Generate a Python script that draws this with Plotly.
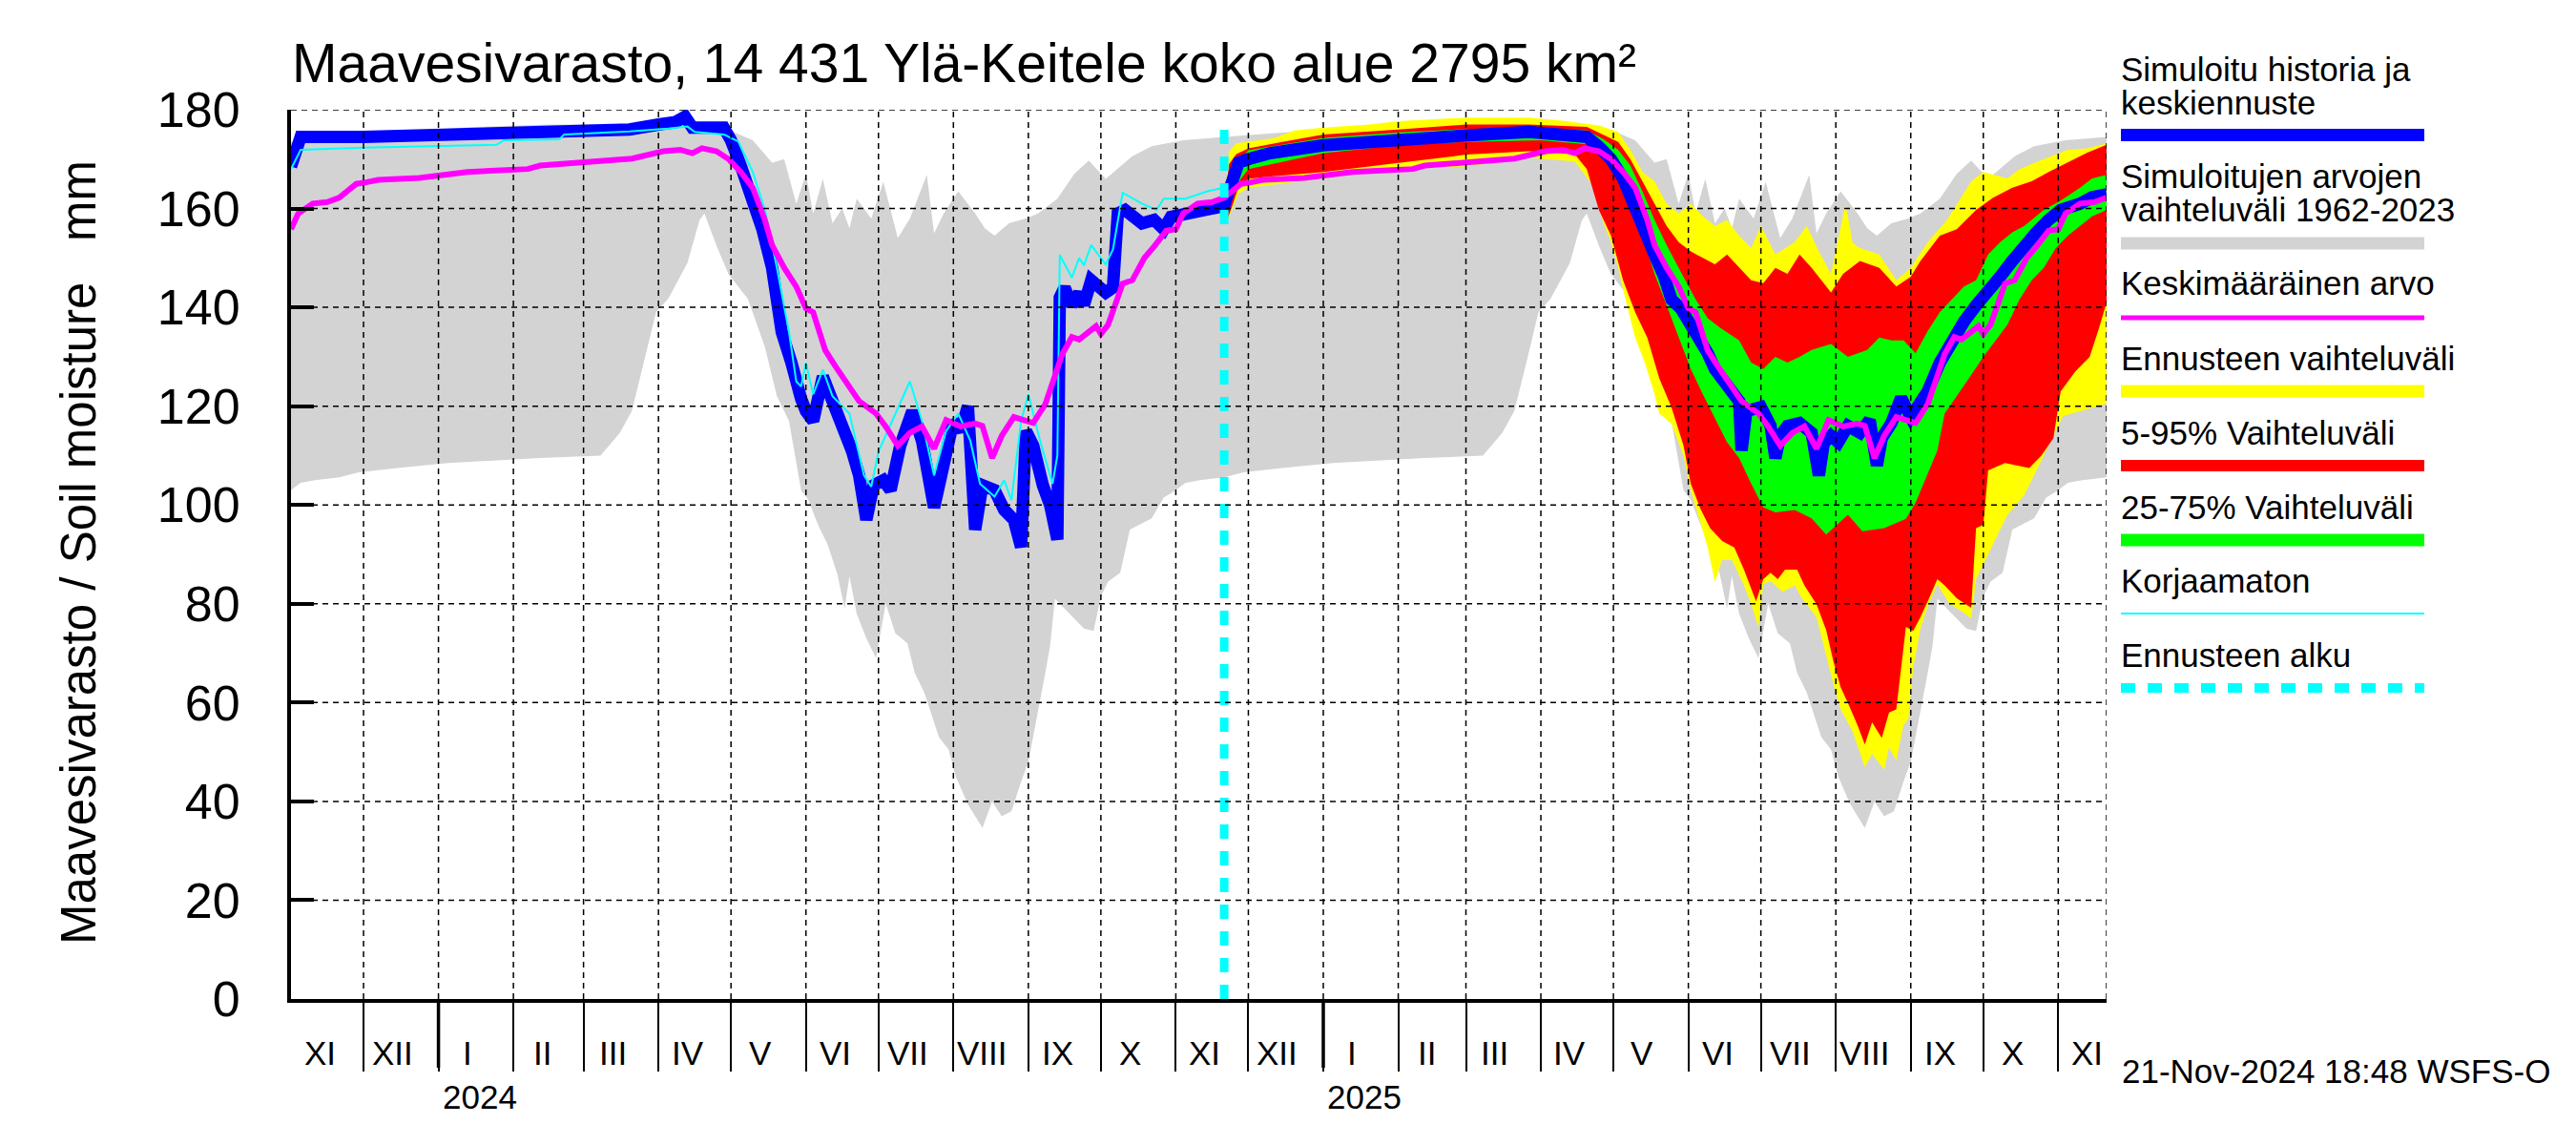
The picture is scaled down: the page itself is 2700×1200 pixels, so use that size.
import plotly.graph_objects as go
from datetime import date

# ---------------- DATA ----------------
X_START = "2023-11-01"
X_END = "2025-11-21"
FORECAST_START = "2024-11-21"
FORECAST_LINE_TOP = 177.6

# Climatology 1962-2023 (by month-day): lower / upper envelope and mean
gray_low_md = [("01-05",108.5),("02-12",109.5),("03-08",110),("03-16",114.6),("03-21",119),("03-26",128.8),
    ("03-31",139),("04-05",141.7),("04-13",149),("04-18",157.7),("04-20",159),("04-25",152.5),("04-30",146.7),
    ("05-08",141.7),("05-15",132),("05-20",122),("05-25",117),("05-30",103),("06-02",101),("06-06",96),
    ("06-10",92),("06-14",86),("06-17",79),("06-19",85.6),("06-22",78),("06-26",73),("06-30",69),("07-04",80),
    ("07-08",74),("07-13",72),("07-16",66),("07-20",62),("07-23",57.5),("07-26",53),("07-30",50.5),("08-02",45),
    ("08-07",39.4),("08-13",34.6),("08-17",40),("08-21",37),("08-25",38),("08-29",44),("09-01",48),("09-05",58),
    ("09-08",66),("09-10",71.5),("09-12",81),("09-19",77.5),("09-24",75),("09-28",74.5),("10-01",81.5),
    ("10-04",84.5),("10-09",86.3),("10-13",95),("10-22",97.3),("10-27",101.5),("11-01",103),("11-05",104.5),
    ("11-11",105),("11-21",105.6),("11-29",106.6),("12-15",107.5)]

gray_up_md = [("01-15",176.5),("02-15",177),("03-15",177),("04-01",177),("04-20",176.5),("05-01",175.7),
    ("05-10",173.8),("05-18",169.3),("05-23",170),("05-28",161),("06-01",167),("06-04",159),("06-08",166),
    ("06-12",157),("06-16",160),("06-19",156),("06-22",162),("06-28",158),("07-03",165.4),("07-09",154),
    ("07-14",158),("07-21",166.8),("07-24",155),("07-28",159),("08-03",163.5),("08-10",159),("08-14",156),
    ("08-18",154.5),("08-24",157),("08-31",158),("09-05",159),("09-13",162),("09-20",167),("09-26",169.7),
    ("10-03",166),("10-14",170.6),("10-22",172.6),("11-01",173.5),("11-04",173.8),("11-21",174.5),("12-19",175.5)]

mean_md = [("01-13",167.4),("02-07",168),("02-12",168.7),("03-21",170.1),("04-03",171.6),("04-10",171.9),
    ("04-15",171.2),("04-19",172.2),("04-25",171.6),("04-30",170),("05-05",167.4),("05-10",164.2),("05-15",157.7),
    ("05-18",152.6),("05-23",148),("05-28",144.2),("06-01",139.8),("06-04",139),("06-09",131.3),("06-13",128.2),
    ("06-17",125.5),("06-23",121),("06-30",118.5),("07-04",115.9),("07-09",112),("07-14",114.6),("07-19",115.9),
    ("07-24",111.4),("07-29",117.2),("08-04",115.9),("08-10",116.5),("08-13",116),("08-17",109.5),("08-21",114),
    ("08-26",117.8),("09-03",116.6),("09-08",120.4),("09-12",126.2),("09-15",130.5),("09-19",134),("09-22",133.5),
    ("09-29",136.2),("10-01",134.6),("10-04",136.5),("10-07",140.4),("10-10",144.8),("10-14",145.5),("10-19",150),
    ("10-23",152.3),("10-28",155.5),("11-01",155.8),("11-04",159),("11-10",161),("11-16",161.3),("11-21",162.2),
    ("11-25",163.9),("11-28",165),("12-02",165.3),("12-07",165.8),("12-24",166.2)]

# Simulated history (thick blue) and uncorrected (cyan)
history = [("2023-11-01",168.5),("2023-11-03",172),("2023-11-05",174.5),("2023-12-01",174.5),("2024-01-01",175),
    ("2024-02-01",175.4),("2024-03-01",175.7),("2024-03-20",176),("2024-04-01",177),("2024-04-08",177.5),
    ("2024-04-12",178.6),("2024-04-15",176.4),("2024-04-28",176.4),("2024-05-01",173.8),("2024-05-05",168.7),
    ("2024-05-10",162),("2024-05-14",155.8),("2024-05-18",148),("2024-05-22",135),("2024-05-26",128.8),
    ("2024-05-28",123.6),("2024-05-30",121.5),("2024-06-01",119),("2024-06-04",117),("2024-06-08",126),
    ("2024-06-12",121),("2024-06-16",117),("2024-06-20",111),("2024-06-23",106),("2024-06-26",97),
    ("2024-06-29",104),("2024-07-03",105),("2024-07-06",103),("2024-07-10",112),("2024-07-15",119),
    ("2024-07-19",113),("2024-07-24",99.5),("2024-07-28",108),("2024-08-01",117),("2024-08-04",115),
    ("2024-08-07",120),("2024-08-10",95),("2024-08-13",104),("2024-08-18",103),("2024-08-22",99),
    ("2024-08-26",97),("2024-08-29",91.5),("2024-08-31",115),("2024-09-03",112),("2024-09-07",104),
    ("2024-09-10",100),("2024-09-13",93),("2024-09-14",142),("2024-09-16",144),("2024-09-19",140.4),
    ("2024-09-22",142.9),("2024-09-24",140.5),("2024-09-27",145.5),("2024-10-03",143),("2024-10-06",144),
    ("2024-10-08",159),("2024-10-11",159.7),("2024-10-18",157),("2024-10-23",157.7),("2024-10-27",155.8),
    ("2024-10-30",158.3),("2024-11-08",159),("2024-11-18",160.3),("2024-11-21",160.5)]

uncorrected = [("2023-11-01",168),("2023-11-05",171.9),("2023-12-01",172.3),("2024-01-25",172.9),
    ("2024-01-28",173.8),("2024-02-20",174),("2024-02-22",175),("2024-03-20",175.6),("2024-04-05",176.2),
    ("2024-04-13",176.6),("2024-04-16",175.5),("2024-04-28",175),("2024-05-04",173.6),("2024-05-10",167.4),
    ("2024-05-15",159.7),("2024-05-20",148),("2024-05-25",135),("2024-05-28",125),("2024-05-30",124),
    ("2024-06-01",128.8),("2024-06-04",122.4),("2024-06-08",127.4),("2024-06-12",122),("2024-06-19",118.5),
    ("2024-06-25",106),("2024-06-28",103.7),("2024-07-01",110.8),("2024-07-04",114),("2024-07-10",120.4),
    ("2024-07-14",125),("2024-07-19",117),("2024-07-24",106),("2024-07-29",115),("2024-08-03",118.5),
    ("2024-08-08",113),("2024-08-12",104.3),("2024-08-18",101.7),("2024-08-22",105),("2024-08-25",101),
    ("2024-08-29",117),("2024-09-01",122.4),("2024-09-06",112.7),("2024-09-11",104.3),("2024-09-13",110),
    ("2024-09-14",150.6),("2024-09-19",146),("2024-09-22",150),("2024-09-24",148.5),("2024-09-27",152.6),
    ("2024-10-03",148.7),("2024-10-06",151.7),("2024-10-10",163.2),("2024-10-18",161),("2024-10-24",159.7),
    ("2024-10-27",162),("2024-11-05",162),("2024-11-14",163.5),("2024-11-19",164),("2024-11-21",164)]

# Forecast: median (blue), 25-75 % (green), 5-95 % (red), min-max (yellow)
fc_median = [("2024-11-21",160.5),("2024-11-22",162.2),("2024-11-24",166),("2024-11-27",169.3),("2024-12-01",170),
    ("2024-12-10",171.2),("2025-01-01",172.8),("2025-02-01",174.1),("2025-03-01",174.8),("2025-03-27",175.5),
    ("2025-04-15",175),("2025-04-20",174.5),("2025-04-25",172.5),("2025-04-30",170),("2025-05-05",166.1),
    ("2025-05-10",159.7),("2025-05-14",154.5),("2025-05-18",150.7),("2025-05-22",146.2),("2025-05-25",141.6),
    ("2025-05-29",139.7),("2025-06-02",136.5),("2025-06-06",133.9),("2025-06-09",130.7),("2025-06-12",127.5),
    ("2025-06-16",124.9),("2025-06-19",122.4),("2025-06-22",121),("2025-06-23",111),("2025-06-25",119),
    ("2025-07-01",119.8),("2025-07-05",116),("2025-07-07",109.5),("2025-07-09",114),("2025-07-12",116),
    ("2025-07-17",116.6),("2025-07-22",114.6),("2025-07-25",106),("2025-07-27",112.5),("2025-07-30",114),
    ("2025-08-02",112.7),("2025-08-06",116),("2025-08-11",114.6),("2025-08-15",117.2),("2025-08-18",108),
    ("2025-08-20",113.5),("2025-08-24",116.6),("2025-08-28",121.7),("2025-09-01",117.8),("2025-09-08",123),
    ("2025-09-13",128.8),("2025-09-18",133.3),("2025-09-23",137.1),("2025-09-28",140.4),("2025-10-03",142.9),
    ("2025-10-08",146.2),("2025-10-13",149.4),("2025-10-18",152.6),("2025-10-23",155.2),("2025-10-28",157.7),
    ("2025-11-02",159.7),("2025-11-10",161),("2025-11-15",162.3),("2025-11-21",162.9)]

fc_p75 = [("2024-11-21",160.8),("2024-11-24",168),("2024-12-01",171.8),("2025-01-01",174.3),("2025-02-01",175.4),
    ("2025-03-01",176.1),("2025-04-01",176.4),("2025-04-20",175.8),("2025-04-27",174),("2025-05-03",171.9),
    ("2025-05-08",168.7),("2025-05-13",163.5),("2025-05-18",157.7),("2025-05-23",152.6),("2025-05-28",148),
    ("2025-06-04",141.6),("2025-06-09",137.8),("2025-06-14",135.9),("2025-06-22",133.3),("2025-06-27",128.8),
    ("2025-07-02",127.5),("2025-07-07",130),("2025-07-12",128.8),("2025-07-17",130),("2025-07-22",131.4),
    ("2025-07-30",132.6),("2025-08-06",130),("2025-08-14",131.4),("2025-08-19",133.9),("2025-08-24",133.3),
    ("2025-08-29",133.3),("2025-09-03",130.7),("2025-09-08",135.2),("2025-09-13",139),("2025-09-18",141.6),
    ("2025-09-23",144.2),("2025-09-28",145.5),("2025-10-03",150.7),("2025-10-08",153.2),("2025-10-13",155.2),
    ("2025-10-18",156.5),("2025-10-26",159.7),("2025-11-02",161.6),("2025-11-10",164.2),("2025-11-15",166.1),
    ("2025-11-21",166.8)]

fc_p25 = [("2024-11-21",160),("2024-11-24",163.5),("2024-12-01",168),("2025-01-01",171.2),("2025-02-01",172.8),
    ("2025-03-01",173.5),("2025-04-01",173.8),("2025-04-20",173),("2025-04-27",171),("2025-04-30",170),
    ("2025-05-03",167.4),("2025-05-08",162.2),("2025-05-13",154.5),("2025-05-18",146.8),("2025-05-23",140.4),
    ("2025-05-28",133.9),("2025-06-02",127.5),("2025-06-07",122.4),("2025-06-12",117.5),("2025-06-17",112.7),
    ("2025-06-22",109.5),("2025-06-27",104.3),("2025-07-02",99.5),("2025-07-07",98.5),("2025-07-15",99),
    ("2025-07-22",97.3),("2025-07-28",94),("2025-08-06",98),("2025-08-12",94.7),("2025-08-21",95.3),
    ("2025-08-30",97.2),("2025-09-03",100.5),("2025-09-08",106.3),("2025-09-12",111),("2025-09-15",118.5),
    ("2025-09-20",122),("2025-09-25",125.6),("2025-10-01",130),("2025-10-06",133.3),("2025-10-11",136.5),
    ("2025-10-16",141.6),("2025-10-21",145.5),("2025-10-26",148),("2025-10-31",152),("2025-11-05",154.5),
    ("2025-11-10",156.5),("2025-11-15",158.4),("2025-11-21",159.7)]

fc_p95 = [("2024-11-21",161),("2024-11-23",169),("2024-11-26",171),("2024-12-01",172.2),("2024-12-15",173.5),
    ("2025-01-01",175),("2025-02-01",176),("2025-03-01",177),("2025-03-27",177),("2025-04-20",176.5),
    ("2025-05-03",173.5),("2025-05-08",170),("2025-05-13",165.5),("2025-05-18",161),("2025-05-23",156.5),
    ("2025-05-28",153.2),("2025-06-02",151.3),("2025-06-07",150),("2025-06-12",148.7),("2025-06-17",150.7),
    ("2025-06-22",148),("2025-06-27",145.5),("2025-07-02",144.9),("2025-07-07",148),("2025-07-12",146.8),
    ("2025-07-17",150.7),("2025-07-22",148),("2025-07-30",143),("2025-08-04",146.8),("2025-08-11",149.4),
    ("2025-08-19",148),("2025-08-26",144.2),("2025-09-01",146.2),("2025-09-05",149.4),("2025-09-13",154.5),
    ("2025-09-20",155.8),("2025-09-28",159.7),("2025-10-05",162.2),("2025-10-13",164.2),("2025-10-21",165.5),
    ("2025-10-28",167.4),("2025-11-05",169.3),("2025-11-13",171.3),("2025-11-21",172.9)]

fc_p05 = [("2024-11-21",159.5),("2024-11-22",157.4),("2024-11-24",160),("2024-11-27",164.5),("2024-12-01",166),
    ("2024-12-10",166.5),("2025-01-01",167.4),("2025-02-01",169.3),("2025-03-01",170.9),("2025-03-27",171.6),
    ("2025-04-15",171),("2025-04-20",168),("2025-04-25",159.7),("2025-04-30",154.5),("2025-05-05",145.5),
    ("2025-05-10",139),("2025-05-15",133.9),("2025-05-20",125.6),("2025-05-25",119.8),("2025-05-30",112),
    ("2025-06-02",104.3),("2025-06-06",99.2),("2025-06-10",95.3),("2025-06-15",92.7),("2025-06-20",91.4),
    ("2025-06-24",86.9),("2025-06-29",80.5),("2025-07-02",85),("2025-07-05",86.3),("2025-07-08",85),
    ("2025-07-11",86.9),("2025-07-16",86.9),("2025-07-19",83.7),("2025-07-24",79.9),("2025-07-28",74.7),
    ("2025-07-31",68.3),("2025-08-03",63.1),("2025-08-06",59.9),("2025-08-10",55.4),("2025-08-13",51.5),
    ("2025-08-16",56),("2025-08-20",52.8),("2025-08-23",58),("2025-08-26",58.6),("2025-08-30",75.3),
    ("2025-09-02",74.5),("2025-09-05",77.3),("2025-09-08",80.5),("2025-09-12",85),("2025-09-15",83.7),
    ("2025-09-20",81.1),("2025-09-26",79.2),("2025-09-28",95.3),("2025-10-01",96),("2025-10-03",107),
    ("2025-10-10",108.5),("2025-10-20",107.5),("2025-10-25",110),("2025-10-30",113.5),("2025-11-02",123),
    ("2025-11-08",127),("2025-11-14",130),("2025-11-18",136),("2025-11-21",141)]

fc_max = [("2024-11-21",161),("2024-11-23",171.5),("2024-11-26",173.2),("2024-12-01",173.5),("2024-12-12",174.3),
    ("2024-12-20",175.8),("2025-01-01",176.4),("2025-01-20",177),("2025-02-01",177.7),("2025-03-01",178.4),
    ("2025-03-27",178.4),("2025-04-10",177.8),("2025-04-25",176.8),("2025-05-03",175.5),("2025-05-08",171.9),
    ("2025-05-13",167.4),("2025-05-18",165.5),("2025-05-23",161),("2025-05-28",159),("2025-06-02",161),
    ("2025-06-07",158.4),("2025-06-12",156.5),("2025-06-17",157.7),("2025-06-22",154.5),("2025-06-27",152),
    ("2025-07-01",156.5),("2025-07-07",150.7),("2025-07-15",153.2),("2025-07-20",156.5),("2025-07-25",151.3),
    ("2025-07-30",146.8),("2025-08-05",161),("2025-08-08",153),("2025-08-11",152),("2025-08-19",150.7),
    ("2025-08-26",145.5),("2025-09-01",148),("2025-09-08",153.2),("2025-09-16",157.7),("2025-09-26",165.5),
    ("2025-10-01",167.4),("2025-10-11",166.1),("2025-10-16",168),("2025-10-26",170),("2025-11-05",171.9),
    ("2025-11-13",172.2),("2025-11-21",173.2)]

fc_min = [("2024-11-21",159),("2024-11-22",157),("2024-11-24",159.5),("2024-11-27",163),("2024-12-01",164.2),
    ("2025-01-01",166.1),("2025-02-01",168),("2025-03-01",168.5),("2025-03-27",170.3),("2025-04-15",169.5),
    ("2025-04-22",165),("2025-04-27",157),("2025-04-30",153.2),("2025-05-03",148),("2025-05-06",141.6),
    ("2025-05-10",133.9),("2025-05-14",128.8),("2025-05-18",122.4),("2025-05-20",118.5),("2025-05-25",116.5),
    ("2025-05-30",110),("2025-06-02",103),("2025-06-06",96.6),("2025-06-09",91.4),("2025-06-12",84.4),
    ("2025-06-15",88.9),("2025-06-19",88.9),("2025-06-24",83.7),("2025-06-27",79.9),("2025-06-30",75.3),
    ("2025-07-02",84),("2025-07-05",84.6),("2025-07-10",82.4),("2025-07-15",83.7),("2025-07-18",81.1),
    ("2025-07-24",77.3),("2025-07-28",69.6),("2025-07-31",63.8),("2025-08-03",58.6),("2025-08-08",54.1),
    ("2025-08-13",47),("2025-08-16",49.6),("2025-08-21",46.4),("2025-08-23",50.9),("2025-08-26",48.3),
    ("2025-08-29",55.4),("2025-08-31",56.7),("2025-09-02",67),("2025-09-05",75),("2025-09-08",79.5),
    ("2025-09-12",84),("2025-09-17",80),("2025-09-22",78.5),("2025-09-26",77),("2025-09-28",85),
    ("2025-10-01",88),("2025-10-05",92),("2025-10-11",98),("2025-10-18",102),("2025-10-24",108),
    ("2025-10-29",113),("2025-11-03",118),("2025-11-21",120.5)]

ROMAN = ["I", "II", "III", "IV", "V", "VI", "VII", "VIII", "IX", "X", "XI", "XII"]
Y_TICKS = [0, 20, 40, 60, 80, 100, 120, 140, 160, 180]

TITLE = "Maavesivarasto, 14 431 Ylä-Keitele koko alue 2795 km²"
Y_TITLE = "Maavesivarasto / Soil moisture\u00a0\u00a0\u00a0mm"
STAMP = "21-Nov-2024 18:48 WSFS-O"

# ---------------- HELPERS ----------------
D0 = date.fromisoformat(X_START)
D1 = date.fromisoformat(X_END)


def expand_clim(pairs):
    pts = []
    for yr in (2023, 2024, 2025):
        for md, v in pairs:
            d = date(yr, int(md[:2]), int(md[3:]))
            if D0 <= d <= D1:
                pts.append((d, v))
    pts.sort()
    return [p[0].isoformat() for p in pts], [p[1] for p in pts]


def xy(pairs):
    return [p[0] for p in pairs], [p[1] for p in pairs]


# page-pixel geometry (the html body adds an 8 px offset)
OFF = 8
PLOT_LEFT, PLOT_TOP, PW, PH = 305, 115, 1903, 932
W, H = 2684, 1184
L, T = PLOT_LEFT - OFF, PLOT_TOP - OFF
R, B = W - L - PW, H - T - PH


def px_x(px):
    return (px - PLOT_LEFT) / PW


def px_y(py):
    return (PLOT_TOP + PH - py) / PH


FONT = "Liberation Sans, Arial, sans-serif"

# month starts
month_starts = []
y, m = D0.year, D0.month
while True:
    m += 1
    if m > 12:
        m, y = 1, y + 1
    d = date(y, m, 1)
    if d > D1:
        break
    month_starts.append(d)

fig = go.Figure()


def band(low, up, color):
    lx, ly = low
    ux, uy = up
    fig.add_trace(go.Scatter(x=lx, y=ly, mode="lines", line=dict(width=0, color=color),
                             showlegend=False, hoverinfo="skip"))
    fig.add_trace(go.Scatter(x=ux, y=uy, mode="lines", line=dict(width=0, color=color),
                             fill="tonexty", fillcolor=color, showlegend=False, hoverinfo="skip"))


band(expand_clim(gray_low_md), expand_clim(gray_up_md), "#d3d3d3")
band(xy(fc_min), xy(fc_max), "#ffff00")
band(xy(fc_p05), xy(fc_p95), "#ff0000")
band(xy(fc_p25), xy(fc_p75), "#00ff00")

bx, by = xy(history + fc_median[1:])
fig.add_trace(go.Scatter(x=bx, y=by, mode="lines", line=dict(color="#0000ff", width=13),
                         showlegend=False, hoverinfo="skip"))
cx, cy = xy(uncorrected)
fig.add_trace(go.Scatter(x=cx, y=cy, mode="lines", line=dict(color="#00ffff", width=2),
                         showlegend=False, hoverinfo="skip"))
mx, my = expand_clim(mean_md)
fig.add_trace(go.Scatter(x=mx, y=my, mode="lines", line=dict(color="#ff00ff", width=6),
                         showlegend=False, hoverinfo="skip"))
fig.add_trace(go.Scatter(x=[FORECAST_START, FORECAST_START], y=[0, FORECAST_LINE_TOP], mode="lines",
                         line=dict(color="#00ffff", width=9, dash="15px,13px"),
                         showlegend=False, hoverinfo="skip"))

shapes = []
GRID = dict(color="black", width=1.5, dash="6px,5px")
for ms in month_starts + [D1]:
    shapes.append(dict(type="line", xref="x", yref="paper", x0=ms.isoformat(), x1=ms.isoformat(),
                       y0=0, y1=1, line=GRID, layer="above"))
for v in Y_TICKS[1:]:
    shapes.append(dict(type="line", xref="paper", yref="y", x0=0, x1=1, y0=v, y1=v, line=GRID, layer="above"))
# thicker year ticks
for ms in month_starts:
    if ms.month == 1:
        shapes.append(dict(type="line", xref="x", yref="paper", x0=ms.isoformat(), x1=ms.isoformat(),
                           y0=0, y1=-72 / PH, line=dict(color="black", width=3.5), layer="above"))

annotations = []
annotations.append(dict(text=TITLE, x=px_x(304), y=px_y(66), xref="paper", yref="paper",
                        xanchor="left", yanchor="middle", showarrow=False,
                        font=dict(family=FONT, size=57, color="black")))
annotations.append(dict(text=Y_TITLE, x=px_x(82), y=px_y(579), xref="paper", yref="paper",
                        xanchor="center", yanchor="middle", textangle=-90, showarrow=False,
                        font=dict(family=FONT, size=51, color="black")))
# month labels (centred on the 13th)
y2, m2 = D0.year, D0.month
while True:
    d = date(y2, m2, 13)
    if d > D1:
        break
    annotations.append(dict(text=ROMAN[m2 - 1], x=d.isoformat(), y=px_y(1103), xref="x", yref="paper",
                            xanchor="center", yanchor="middle", showarrow=False,
                            font=dict(family=FONT, size=35, color="black")))
    m2 += 1
    if m2 > 12:
        m2, y2 = 1, y2 + 1
for ms in month_starts:
    if ms.month == 1:
        annotations.append(dict(text=str(ms.year), x=ms.isoformat(), y=px_y(1149), xref="x", yref="paper",
                                xanchor="left", yanchor="middle", xshift=2, showarrow=False,
                                font=dict(family=FONT, size=35, color="black")))
annotations.append(dict(text=STAMP, x=px_x(2222), y=px_y(1122), xref="paper", yref="paper",
                        xanchor="left", yanchor="middle", showarrow=False,
                        font=dict(family=FONT, size=35, color="black")))

# legend (manual)
LEG_X0, LEG_X1 = 2223, 2541
leg_texts = [("Simuloitu historia ja", 72), ("keskiennuste", 108), ("Simuloitujen arvojen", 185),
             ("vaihteluväli 1962-2023", 219), ("Keskimääräinen arvo", 297), ("Ennusteen vaihteluväli", 375),
             ("5-95% Vaihteluväli", 453), ("25-75% Vaihteluväli", 531), ("Korjaamaton", 608),
             ("Ennusteen alku", 686)]
for t, yy in leg_texts:
    annotations.append(dict(text=t, x=px_x(LEG_X0 - 2), y=px_y(yy), xref="paper", yref="paper",
                            xanchor="left", yanchor="middle", showarrow=False,
                            font=dict(family=FONT, size=35, color="black")))
leg_swatches = [("#0000ff", 141.5, 13, "solid"), ("#d3d3d3", 255, 13, "solid"), ("#ff00ff", 333, 5, "solid"),
                ("#ffff00", 410, 13, "solid"), ("#ff0000", 488, 12, "solid"), ("#00ff00", 566, 13, "solid"),
                ("#00ffff", 643, 2, "solid"), ("#00ffff", 721, 10, "15px,13px")]
for col, yy, wd, dash in leg_swatches:
    shapes.append(dict(type="line", xref="paper", yref="paper", x0=px_x(LEG_X0), x1=px_x(LEG_X1),
                       y0=px_y(yy), y1=px_y(yy), line=dict(color=col, width=wd, dash=dash)))

fig.update_layout(
    width=W, height=H,
    margin=dict(l=L, r=R, t=T, b=B, pad=0),
    paper_bgcolor="white", plot_bgcolor="white",
    showlegend=False,
    shapes=shapes, annotations=annotations,
    xaxis=dict(type="date", range=[X_START, X_END], showgrid=False, zeroline=False,
               showline=True, linecolor="black", linewidth=4,
               tickmode="array", tickvals=[d.isoformat() for d in month_starts], ticks="outside",
               ticklen=72, tickwidth=1.5, tickcolor="black", showticklabels=False, layer="above traces"),
    yaxis=dict(range=[0, 180], showgrid=False, zeroline=False, showline=True, linecolor="black",
               linewidth=4, tickmode="array", tickvals=Y_TICKS, ticks="inside", ticklen=24,
               tickwidth=4, tickcolor="black", ticklabelstandoff=39,
               tickfont=dict(family=FONT, size=52, color="black"), layer="above traces"),
)

fig.write_html("out.html")
